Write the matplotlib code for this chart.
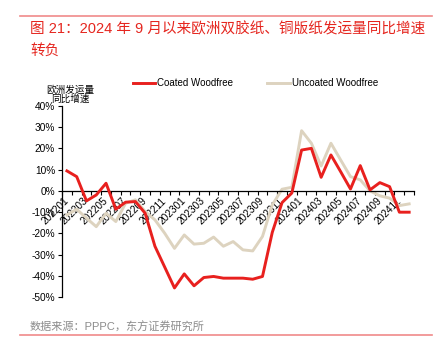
import matplotlib
matplotlib.use("Agg")
import matplotlib.pyplot as plt
import numpy as np

plt.rcParams['font.family'] = ['Liberation Sans', 'Noto Sans CJK SC', 'DejaVu Sans']

months = [f"{y}{m:02d}" for y in (2022, 2023, 2024) for m in range(1, 13)]
coated = [9.4, 6.7, -4.7, -1.9, 3.6, -8.6, -5.3, -5.0, -10.5, -26.0, -35.8, -45.6,
          -39.0, -44.6, -40.7, -40.2, -41.0, -41.0, -41.0, -41.5, -40.2, -19.5, -5.5, -1.0,
          19.2, 20.0, 6.4, 16.9, 9.0, 0.9, 11.9, 0.5, 3.9, 2.0, -10.0, -10.0]
uncoated = [-11.3, -8.6, -12.8, -16.8, -10.5, -14.4, -5.8, -4.2, -9.7, -13.6, -19.9, -27.0,
            -20.7, -25.0, -24.6, -21.7, -26.0, -23.8, -27.7, -28.2, -21.4, -6.6, 0.8, 1.7,
            28.3, 22.4, 11.7, 22.4, 14.5, 6.7, 5.2, 0.0, -2.3, -3.4, -6.9, -6.1]
yticks = [-50, -40, -30, -20, -10, 0, 10, 20, 30, 40]
series_names = ["Coated Woodfree", "Uncoated Woodfree"]

RED = '#E8201E'
BEIGE = '#DDD3BF'

fig = plt.figure(figsize=(4.4, 3.55), dpi=100)
ax = fig.add_axes([0.141, 0.1625, 0.80, 0.5395])

x = np.arange(len(months))
ax.plot(x, coated, color=RED, lw=2.1, label=series_names[0], zorder=3)
ax.plot(x, uncoated, color=BEIGE, lw=2.1, label=series_names[1], zorder=2)

ax.set_xlim(-0.5, len(months) - 0.5)
ax.set_ylim(-50, 40)

for s in ('top', 'right'):
    ax.spines[s].set_visible(False)
ax.spines['bottom'].set_position(('data', 0))
ax.spines['left'].set_linewidth(0.9)
ax.spines['bottom'].set_linewidth(0.9)

ax.set_yticks(yticks)
ax.set_yticklabels([f"{v}%" for v in yticks], fontsize=7.3)
ax.tick_params(axis='y', direction='out', length=3, width=0.8, pad=2)

ax.set_xticks(x[::2])
ax.set_xticklabels(months[::2], fontsize=7.3, rotation=45, ha='right',
                   rotation_mode='anchor', va='center')
ax.tick_params(axis='x', which='major', length=0, pad=6)
ax.set_xticks(np.arange(-0.5, len(months), 1), minor=True)
ax.tick_params(axis='x', which='minor', direction='out', length=3, width=0.8)

# y-axis title
fig.text(70/440, 1 - 89.5/355, "欧洲发运量", ha='center', va='center', fontsize=6.9)
fig.text(70/440, 1 - 98.5/355, "同比增速", ha='center', va='center', fontsize=6.9)

# legend
fig.legend(loc='center left', bbox_to_anchor=(133/440, 1 - 83.3/355), ncol=2,
           frameon=False, fontsize=7, handlelength=2.3, handletextpad=0.2,
           columnspacing=3.5, borderpad=0, borderaxespad=0)

# title and rules
fig.add_artist(plt.Line2D([20/440, 432/440], [1 - 16/355, 1 - 16/355], color='#F08A8A', lw=1.2))
fig.text(30/440, 1 - 29/355, "图 21：2024 年 9 月以来欧洲双胶纸、铜版纸发运量同比增速",
         ha='left', va='center', fontsize=10.5, color='#E5261F', fontweight='medium')
fig.text(30/440, 1 - 51/355, "转负", ha='left', va='center', fontsize=10.5,
         color='#E5261F', fontweight='medium')

fig.text(30/440, 1 - 327/355, "数据来源：PPPC，东方证券研究所", ha='left', va='center',
         fontsize=8, color='#8C8C8C')
fig.add_artist(plt.Line2D([20/440, 432/440], [1 - 335/355, 1 - 335/355], color='#F08A8A', lw=1.2))

fig.savefig("out.png", dpi=100)
